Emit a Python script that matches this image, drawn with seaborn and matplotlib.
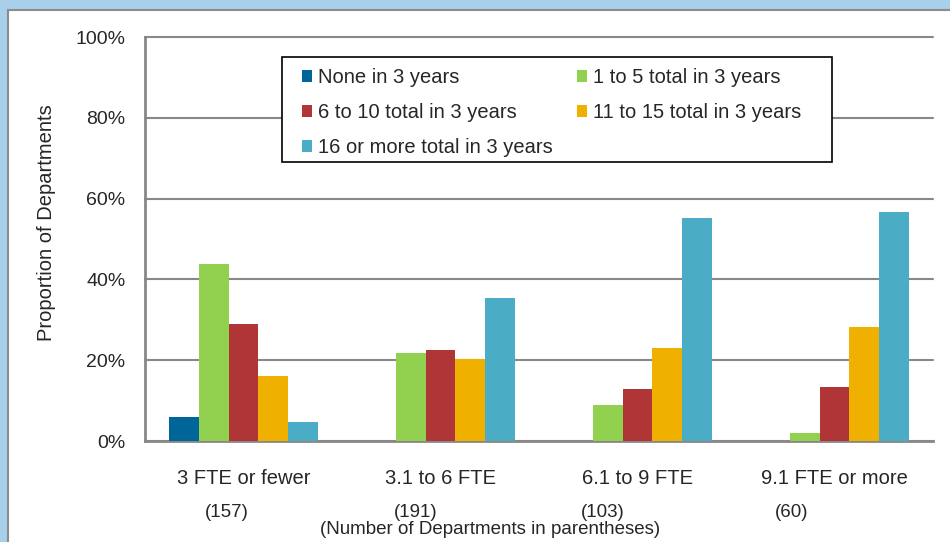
import matplotlib
matplotlib.use("Agg")
from matplotlib import pyplot as plt
from matplotlib.patches import Rectangle
import matplotlib.transforms as mtransforms
import seaborn as sns
import pandas as pd

categories = ["3 FTE or fewer", "3.1 to 6 FTE", "6.1 to 9 FTE", "9.1 FTE or more"]
dept_counts = ["(157)", "(191)", "(103)", "(60)"]
series = ["None in 3 years", "1 to 5 total in 3 years", "6 to 10 total in 3 years",
          "11 to 15 total in 3 years", "16 or more total in 3 years"]
none_3yr = [6.0, 0.0, 0.0, 0.0]
one_to_5 = [43.7, 21.7, 8.8, 1.9]
six_to_10 = [29.0, 22.6, 12.9, 13.3]
eleven_to_15 = [16.1, 20.3, 23.1, 28.1]
sixteen_plus = [4.7, 35.4, 55.3, 56.6]
colors = ["#00669A", "#92D050", "#B03536", "#F0B000", "#4BACC6"]

values = [none_3yr, one_to_5, six_to_10, eleven_to_15, sixteen_plus]
rows = []
for s, vals in zip(series, values):
    for c, v in zip(categories, vals):
        rows.append({"size": c, "series": s, "pct": v})
df = pd.DataFrame(rows)

sns.set_style("white")
plt.rcParams["font.family"] = ["Liberation Sans", "DejaVu Sans"]

fig = plt.figure(figsize=(9.5, 5.42), dpi=100)
fig.patch.set_facecolor("#A9D0EA")
# white panel with grey border
fig.patches.append(Rectangle((8 / 950, -0.01), 1.0, (542 - 10) / 542 + 0.01,
                             transform=fig.transFigure, facecolor="white",
                             edgecolor="#8C8C8C", linewidth=1.5, zorder=-10))

ax = fig.add_axes([145 / 950, 101 / 542, 788 / 950, 404 / 542])
ax.set_facecolor("white")
sns.barplot(data=df, x="size", y="pct", hue="series", hue_order=series,
            order=categories, palette=colors, saturation=1, width=0.76,
            linewidth=0, ax=ax, zorder=3)

ax.set_ylim(0, 100)
ax.set_yticks([0, 20, 40, 60, 80, 100])
ax.set_yticklabels([f"{t}%" for t in range(0, 101, 20)], fontsize=14)
ax.yaxis.grid(True, color="#888888", linewidth=1.5, zorder=0)
for gl in ax.get_ygridlines():
    gl.set_clip_on(False)
ax.set_axisbelow(True)
ax.tick_params(axis="y", length=0, pad=14)
ax.tick_params(axis="x", length=0, pad=20, labelsize=14.5)
ax.set_xlabel("")
ax.set_ylabel("Proportion of Departments", fontsize=14.5)
ax.yaxis.set_label_coords(-0.113, 0.54)

for side in ["top", "right"]:
    ax.spines[side].set_visible(False)
for side in ["left", "bottom"]:
    ax.spines[side].set_color("#888888")
    ax.spines[side].set_linewidth(2)

trans = mtransforms.blended_transform_factory(ax.transData, ax.transAxes)
count_x = [-0.084, 0.876, 1.825, 2.784]
for x, t in zip(count_x, dept_counts):
    ax.text(x, -0.178, t, transform=trans, ha="center", va="center", fontsize=13.5)
ax.text(0.438, -0.219, "(Number of Departments in parentheses)", transform=ax.transAxes,
        ha="center", va="center", fontsize=13.5)

# legend box drawn separately so its padding can match the original
ax.add_patch(Rectangle((0.1739, 0.6906), 0.6979, 0.2599, transform=ax.transAxes,
                       facecolor="white", edgecolor="black", linewidth=1.2,
                       zorder=4, clip_on=False))
handles, labels = ax.get_legend_handles_labels()
order = [0, 2, 4, 1, 3]
leg = ax.legend([handles[i] for i in order], [labels[i] for i in order], ncol=2,
                loc="upper left", bbox_to_anchor=(0.199, 0.923),
                borderaxespad=0, borderpad=0, fontsize=14.5, frameon=False,
                handlelength=0.5, handleheight=0.5, handletextpad=0.3,
                labelspacing=0.8, columnspacing=1.2)
leg.set_zorder(5)

fig.savefig("out.png", dpi=100, facecolor=fig.get_facecolor())
